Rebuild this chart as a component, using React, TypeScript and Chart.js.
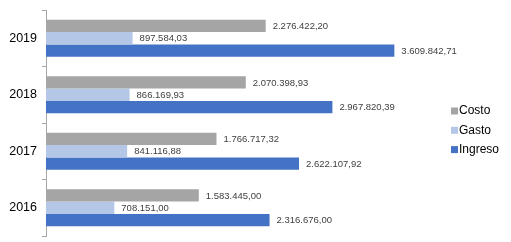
import React, { useEffect, useRef } from 'react';
import { Chart, registerables } from 'chart.js';
Chart.register(...registerables);

const categories = ['2019', '2018', '2017', '2016'];
const costo = [2276422.2, 2070398.93, 1766717.32, 1583445.0];
const gasto = [897584.03, 866169.93, 841116.88, 708151.0];
const ingreso = [3609842.71, 2967820.39, 2622107.92, 2316676.0];
const seriesNames = ['Costo', 'Gasto', 'Ingreso'];
const seriesColors = ['#a5a5a5', '#b4c7e7', '#4472c4'];
const xMax = 4000000;

function fmt(v: number): string {
  const [i, d] = v.toFixed(2).split('.');
  return i.replace(/\B(?=(\d{3})+(?!\d))/g, '.') + ',' + d;
}

const FONT = "'Liberation Sans', Arial, sans-serif";

const valueLabels = {
  id: 'valueLabels',
  afterDatasetsDraw(chart: any) {
    const ctx = chart.ctx;
    ctx.save();
    ctx.font = `9.5px ${FONT}`;
    ctx.fillStyle = '#404040';
    ctx.textAlign = 'left';
    ctx.textBaseline = 'middle';
    chart.data.datasets.forEach((ds: any, di: number) => {
      const meta = chart.getDatasetMeta(di);
      meta.data.forEach((bar: any, i: number) => {
        ctx.fillText(fmt(ds.data[i]), bar.x + 7, bar.y + 0.5);
      });
    });
    ctx.restore();
  },
};

const sideLegend = {
  id: 'sideLegend',
  afterDraw(chart: any) {
    const ctx = chart.ctx;
    ctx.save();
    ctx.font = `12px ${FONT}`;
    ctx.textAlign = 'left';
    ctx.textBaseline = 'middle';
    chart.data.datasets.forEach((ds: any, i: number) => {
      const y = 111 + i * 19.3;
      ctx.fillStyle = ds.backgroundColor;
      ctx.fillRect(451, y - 3.5, 7, 7);
      ctx.fillStyle = '#000';
      ctx.fillText(ds.label, 459, y);
    });
    ctx.restore();
  },
};

export default function App() {
  const ref = useRef<HTMLCanvasElement>(null);
  useEffect(() => {
    document.body.style.margin = '0';
    const chart = new Chart(ref.current!, {
      type: 'bar',
      data: {
        labels: categories,
        datasets: [costo, gasto, ingreso].map((d, i) => ({
          label: seriesNames[i],
          data: d,
          backgroundColor: seriesColors[i],
          borderWidth: 0,
          categoryPercentage: 0.655,
          barPercentage: 1,
        })),
      },
      options: {
        indexAxis: 'y',
        animation: false,
        responsive: true,
        maintainAspectRatio: false,
        layout: { padding: { top: 10, bottom: 6, right: 79, left: 0 } },
        plugins: { legend: { display: false }, tooltip: { enabled: false } },
        scales: {
          x: { display: false, min: 0, max: xMax },
          y: {
            grid: {
              display: true,
              drawOnChartArea: false,
              drawTicks: true,
              tickLength: 4,
              color: '#a6a6a6',
            },
            border: { display: true, color: '#a6a6a6' },
            ticks: { color: '#000', font: { family: FONT, size: 12.5 }, padding: 5 },
            afterFit: (s: any) => {
              s.width = 46;
              s.paddingTop = 0;
              s.paddingBottom = 0;
            },
          },
        },
      } as any,
      plugins: [valueLabels, sideLegend],
    });
    return () => chart.destroy();
  }, []);
  return (
    <div style={{ position: 'fixed', left: 0, top: 0, width: 511, height: 242 }}>
      <canvas ref={ref} />
    </div>
  );
}
